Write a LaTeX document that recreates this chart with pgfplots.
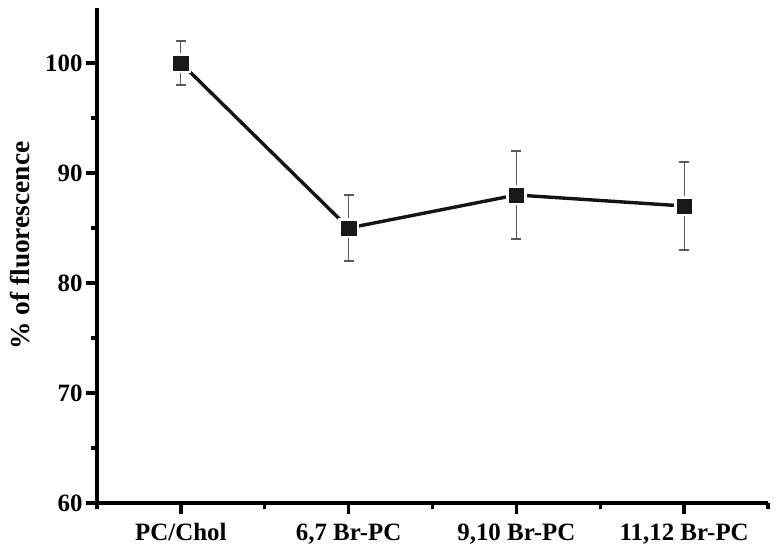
\documentclass[border=0pt]{standalone}
\usepackage{fontspec}
\setmainfont{Liberation Serif}
\usepackage{pgfplots}
\pgfplotsset{compat=1.18}
\begin{document}
\begin{tikzpicture}
\begin{axis}[
  scale only axis, width=671bp, height=495bp,
  xmin=-0.5, xmax=3.5, ymin=60, ymax=105,
  axis x line=bottom, axis y line=left,
  axis line style={-, line width=3.6bp},
  every outer x axis line/.append style={line width=3.6bp},
  every outer y axis line/.append style={line width=3.6bp},
  xtick={0,1,2,3},
  xticklabels={PC/Chol,{6,7 Br-PC},{9,10 Br-PC},{11,12 Br-PC}},
  minor xtick={-0.5,0.5,1.5,2.5,3.5},
  ytick={60,70,80,90,100}, minor ytick={65,75,85,95},
  tick align=outside, major tick length=11bp, minor tick length=6bp,
  tick style={line width=3.4bp, black},
  minor tick style={line width=3.4bp, black},
  /pgf/number format/assume math mode=true,
  tick label style={font=\fontsize{25}{29}\selectfont\bfseries},
  xticklabel style={yshift=-6bp},
  label style={font=\fontsize{27.5}{31}\selectfont\bfseries},
  ylabel={\% of fluorescence},
  ylabel style={at={(axis description cs:-0.115,0.52)}, anchor=center},
  clip=false,
]
\addplot[line width=3.4bp, black!92, mark=square*, mark size=8.7bp,
  mark options={draw=white, fill=white, line width=3bp}]
  coordinates {(0,100) (1,85) (2,88) (3,87)};
\addplot[draw=none, mark=none, error bars/.cd, y dir=both, y explicit,
  error bar style={line width=1.1bp, black!65},
  error mark options={rotate=90, mark size=5bp, line width=1.1bp, black!65}]
  coordinates {(0,100) +- (0,2) (1,85) +- (0,3) (2,88) +- (0,4) (3,87) +- (0,4)};
\addplot[draw=none, mark=square*, mark size=7.2bp,
  mark options={draw=black!90, fill=black!90, line width=0.5bp}]
  coordinates {(0,100) (1,85) (2,88) (3,87)};
\path (rel axis cs:0,0) ++(-97bp,-49bp);
\path (rel axis cs:1,1) ++(9bp,8bp);
\end{axis}
\end{tikzpicture}
\end{document}
